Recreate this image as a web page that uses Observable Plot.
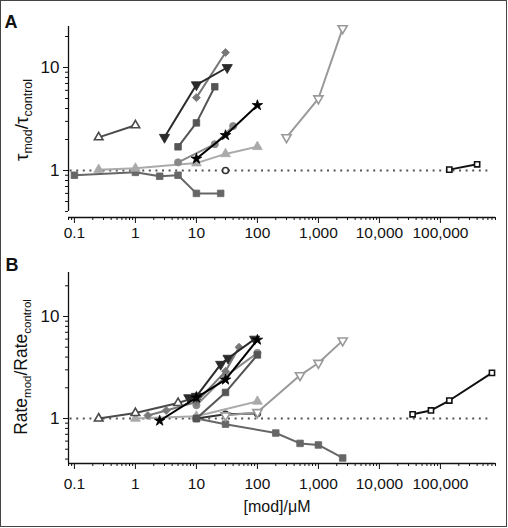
<!DOCTYPE html>
<html>
<head>
<meta charset="utf-8">
<script src="https://cdn.jsdelivr.net/npm/d3@7"></script>
<script src="https://cdn.jsdelivr.net/npm/@observablehq/plot@0.6"></script>
<style>
  html, body { margin: 0; padding: 0; background: #fff; }
  #fig { position: relative; width: 508px; height: 528px; overflow: hidden; font-family: "Liberation Sans", Arial, sans-serif; }
  #frame { position: absolute; left: 0; top: 0; width: 505px; height: 525px; border: 1.5px solid #444; box-sizing: content-box; }
  .panel { position: absolute; left: 0; }
  .panel svg { overflow: visible; }
</style>
</head>
<body>
<div id="fig"><div id="frame"></div></div>
<script>
// ---------- data (x = [mod] in µM, y = ratio) ----------
// Panel A: tau_mod / tau_control
const A_openTriUp   = [[0.25, 2.1], [1, 2.75]];
const A_triDown     = [[3, 2.1], [10, 6.8], [32, 10]];
const A_diamond     = [[10, 5.1], [30, 14]];
const A_squareUp    = [[5, 1.7], [10, 2.9], [20, 6.5]];
const A_circle      = [[5, 1.2], [20, 1.8], [40, 2.7]];
const A_star        = [[10, 1.3], [30, 2.2], [100, 4.3]];
const A_lightTri    = [[0.25, 1.02], [1, 1.05], [10, 1.18], [30, 1.45], [100, 1.7]];
const A_squareDown  = [[0.1, 0.9], [1, 0.96], [2.5, 0.88], [5, 0.9], [10, 0.6], [25, 0.6]];
const A_openCircle  = [[30, 1.0]];
const A_openTriDown = [[300, 2.1], [1000, 5.0], [2500, 24]];
const A_openSquare  = [[140000, 1.02], [400000, 1.15]];

// Panel B: Rate_mod / Rate_control
const B_openTriUp   = [[0.25, 1.0], [1, 1.13], [5, 1.42], [10, 1.62]];
const B_diamond     = [[1.6, 1.07], [3.2, 1.2], [10, 1.45], [30, 2.9], [50, 5.0]];
const B_circle      = [[10, 1.35], [30, 2.6], [100, 4.4]];
const B_squareUp    = [[10, 1.0], [30, 1.8], [100, 4.2]];
const B_triDown     = [[7.5, 1.6], [10, 1.65], [25, 3.4], [33, 3.9], [90, 6.0]];
const B_star        = [[2.5, 0.95], [10, 1.6], [30, 2.4], [100, 5.9]];
const B_lightTri    = [[1, 1.0], [10, 1.05], [100, 1.47]];
const B_squareDown  = [[10, 1.0], [30, 0.88], [200, 0.72], [500, 0.57], [1000, 0.55], [2500, 0.41]];
const B_openCircle  = [[10, 1.0], [30, 1.1], [100, 1.12]];
const B_openTriDown = [[30, 1.07], [100, 1.15], [500, 2.65], [1000, 3.5], [2500, 5.8]];
const B_openSquare  = [[35000, 1.1], [70000, 1.2], [140000, 1.5], [700000, 2.8]];

// tick labels
const xMajorTicks = [0.1, 1, 10, 100, 1000, 10000, 100000];
const xTickLabels = ["0.1", "1", "10", "100", "1,000", "10,000", "100,000"];
const yMajorTicks = [1, 10];
const yTickLabels = ["1", "10"];
const referenceLevel = [1];

// ---------- styling ----------
const triangleDown = {
  draw(context, size) {
    const s3 = Math.sqrt(3);
    const y = -Math.sqrt(size / (s3 * 3));
    context.moveTo(0, -y * 2);
    context.lineTo(-s3 * y, y);
    context.lineTo(s3 * y, y);
    context.closePath();
  }
};

function styles(p) {
  return [
    {data: p.squareDown,  color: "#666", symbol: "square",   fill: true,  r: 3.7},
    {data: p.lightTri,    color: "#aaa", symbol: "triangle", fill: true,  r: 3.6},
    {data: p.openTriUp,   color: "#4a4a4a", symbol: "triangle", fill: false, r: 3.2},
    {data: p.circle,      color: "#888", symbol: "circle",   fill: true,  r: 3.6},
    {data: p.openCircle,  color: "#333", symbol: "circle",   fill: false, r: 3.0},
    {data: p.squareUp,    color: "#555", symbol: "square",   fill: true,  r: 3.7},
    {data: p.diamond,     color: "#777", symbol: "diamond2", fill: true,  r: 3.6},
    {data: p.triDown,     color: "#2a2a2a", symbol: triangleDown, fill: true, r: 3.8},
    {data: p.star,        color: "#000", symbol: "star",     fill: true,  r: 3.3},
    {data: p.openTriDown, color: "#999", symbol: triangleDown, fill: false, r: 3.4},
    {data: p.openSquare,  color: "#111", symbol: "square",   fill: false, r: 2.9}
  ];
}

const xDomain = [0.08, 800000];
const xMinor = d3.scaleLog().domain(xDomain).ticks().filter(t => !xMajorTicks.includes(t));

function panel(p, opts) {
  const yMinor = d3.scaleLog().domain(opts.yAxisSpan).ticks().filter(t => !yMajorTicks.includes(t));
  const marks = [
    Plot.ruleY(referenceLevel, {stroke: "#555", strokeWidth: 2, strokeDasharray: "2,4.6", x1: opts.dotFrom, x2: opts.dotTo}),
    Plot.ruleX([xDomain[0]], {y1: opts.yAxisSpan[0], y2: opts.yAxisSpan[1], stroke: "#111", strokeWidth: 1.3}),
    Plot.ruleY([opts.yDomain[0]], {stroke: "#111", strokeWidth: 1.3}),
    Plot.axisX(xMajorTicks, {tickSize: 6, tickPadding: opts.xPad, fontSize: 15.5, tickFormat: (d, i) => xTickLabels[xMajorTicks.indexOf(d)], label: null, stroke: "#111"}),
    Plot.axisX(xMinor, {tickSize: 3, tickFormat: () => "", label: null, stroke: "#111"}),
    Plot.axisY(yMajorTicks, {tickSize: 5, tickPadding: 4, fontSize: 17, tickFormat: d => yTickLabels[yMajorTicks.indexOf(d)], label: null, stroke: "#111"}),
    Plot.axisY(yMinor, {tickSize: 3, tickFormat: () => "", label: null, stroke: "#111"})
  ];
  for (const s of styles(p)) {
    marks.push(Plot.line(s.data, {x: d => d[0], y: d => d[1], stroke: s.color, strokeWidth: 2}));
    marks.push(Plot.dot(s.data, {
      x: d => d[0], y: d => d[1], symbol: s.symbol, r: s.r,
      fill: s.fill ? s.color : "white",
      stroke: s.color, strokeWidth: s.fill ? 0.8 : 1.6
    }));
  }
  return Plot.plot({
    width: 508, height: opts.height,
    marginLeft: 68, marginRight: 13, marginTop: opts.marginTop, marginBottom: opts.marginBottom,
    x: {type: "log", domain: xDomain},
    y: {type: "log", domain: opts.yDomain},
    style: {fontFamily: "'Liberation Sans', Arial, sans-serif", color: "#111", background: "transparent"},
    marks
  });
}

function addYLabel(svg, x, y, base, sub1, sub2, baseSize, subSize) {
  const t = d3.select(svg).append("text")
    .attr("transform", `translate(${x},${y}) rotate(-90)`)
    .attr("text-anchor", "middle")
    .attr("fill", "#111")
    .style("font-family", "'Liberation Sans', Arial, sans-serif")
    .style("font-size", baseSize + "px");
  t.append("tspan").text(base);
  t.append("tspan").text(sub1).attr("dy", 4).style("font-size", subSize + "px");
  t.append("tspan").text("/").attr("dy", -4);
  t.append("tspan").text(base);
  t.append("tspan").text(sub2).attr("dy", 4).style("font-size", subSize + "px");
}

function addLetter(svg, letter, x, y) {
  d3.select(svg).append("text").attr("x", x).attr("y", y).text(letter)
    .attr("fill", "#111")
    .style("font-family", "'Liberation Sans', Arial, sans-serif")
    .style("font-weight", "bold").style("font-size", "18px");
}

const fig = document.getElementById("fig");

const A = {openTriUp: A_openTriUp, triDown: A_triDown, diamond: A_diamond, squareUp: A_squareUp, circle: A_circle,
  star: A_star, lightTri: A_lightTri, squareDown: A_squareDown, openCircle: A_openCircle, openTriDown: A_openTriDown, openSquare: A_openSquare};
const B = {openTriUp: B_openTriUp, triDown: B_triDown, diamond: B_diamond, squareUp: B_squareUp, circle: B_circle,
  star: B_star, lightTri: B_lightTri, squareDown: B_squareDown, openCircle: B_openCircle, openTriDown: B_openTriDown, openSquare: B_openSquare};

const svgA = panel(A, {height: 245, marginTop: 26, marginBottom: 28, yDomain: [0.35, 25], yAxisSpan: [0.4, 25], xPad: 3, dotFrom: 0.085, dotTo: 650000});
const divA = document.createElement("div"); divA.className = "panel"; divA.style.top = "0px";
divA.appendChild(svgA); fig.appendChild(divA);
addLetter(svgA, "A", 11, 28);
addYLabel(svgA, 28, 120, "τ", "mod", "control", 19, 12.5);

const svgB = panel(B, {height: 283, marginTop: 27, marginBottom: 65, yDomain: [0.362, 27], yAxisSpan: [0.362, 27], xPad: 8, dotFrom: 0.085, dotTo: 650000});
const divB = document.createElement("div"); divB.className = "panel"; divB.style.top = "245px";
divB.appendChild(svgB); fig.appendChild(divB);
addLetter(svgB, "B", 12, 26);
addYLabel(svgB, 27, 122, "Rate", "mod", "control", 17.5, 11.5);
d3.select(svgB).append("text").attr("x", 277).attr("y", 267).attr("text-anchor", "middle")
  .attr("fill", "#111").style("font-family", "'Liberation Sans', Arial, sans-serif").style("font-size", "16px")
  .text("[mod]/μM");
</script>
</body>
</html>
